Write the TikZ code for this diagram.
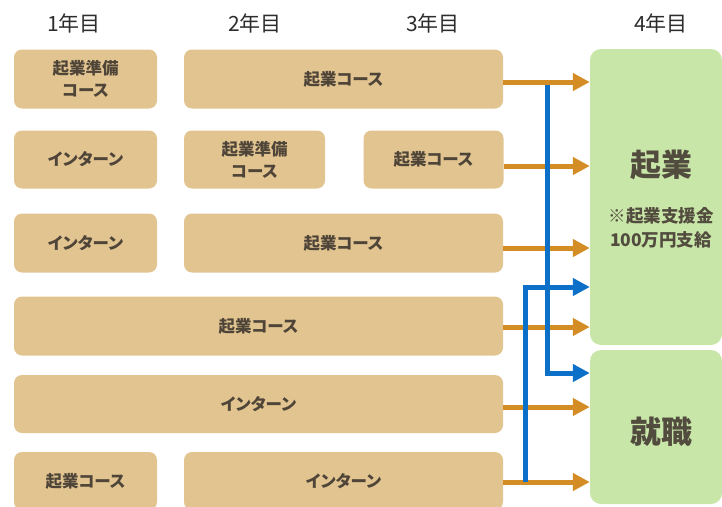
\documentclass[tikz,border=0pt]{standalone}
\usepackage{fontspec}
\usetikzlibrary{arrows.meta}
\newfontfamily\jp{Noto Sans CJK JP}[RawFeature=+palt]
\definecolor{tanc}{RGB}{226,196,144}
\definecolor{greenc}{RGB}{201,230,169}
\definecolor{orangec}{RGB}{211,141,36}
\definecolor{bluec}{RGB}{12,112,200}
\definecolor{boxtxt}{RGB}{78,68,56}
\definecolor{hdrtxt}{RGB}{45,45,45}
\definecolor{gtxt}{RGB}{82,76,62}
\tikzset{
  tbox/.style={fill=tanc, rounded corners=8pt, inner sep=0pt, align=center,
    font=\jp\bfseries\fontsize{16.5}{22}\selectfont, text=boxtxt},
  gbox/.style={fill=greenc, rounded corners=11pt, inner sep=0pt},
  hdr/.style={font=\jp\fontsize{21}{24}\selectfont, text=hdrtxt, inner sep=0pt},
  bigtxt/.style={font=\jp\bfseries\fontsize{31}{36}\selectfont, text=gtxt, inner sep=0pt},
  notetxt/.style={font=\jp\bfseries\fontsize{17.5}{24}\selectfont, text=gtxt, inner sep=0pt, align=center},
  oarr/.style={draw=orangec, line width=5pt, -{Triangle[length=17pt,width=17pt]}},
  barr/.style={draw=bluec, line width=5pt, -{Triangle[length=17pt,width=17pt]}},
}
\begin{document}
\begin{tikzpicture}[x=1pt,y=-1pt]
\useasboundingbox (0,0) rectangle (722,506);
% headers
\node[hdr] (h1) at (74,23) {1年目};
\node[hdr] (h2) at (255,23) {2年目};
\node[hdr] (h3) at (433,23) {3年目};
\node[hdr] (h4) at (661,23) {4年目};
% tan boxes
\node[tbox, minimum width=143pt, minimum height=59pt] (a1) at (85.5,79) {起業準備\\コース};
\node[tbox, minimum width=319pt, minimum height=59pt] (a2) at (343.5,79) {起業コース};
\node[tbox, minimum width=143pt, minimum height=58pt] (b1) at (85.5,159.5) {インターン};
\node[tbox, minimum width=141pt, minimum height=58pt] (b2) at (254.5,159.5) {起業準備\\コース};
\node[tbox, minimum width=140pt, minimum height=58pt] (b3) at (433.5,159.5) {起業コース};
\node[tbox, minimum width=143pt, minimum height=59pt] (c1) at (85.5,243) {インターン};
\node[tbox, minimum width=319pt, minimum height=59pt] (c2) at (343.5,243) {起業コース};
\node[tbox, minimum width=489pt, minimum height=59pt] (d1) at (258.5,326) {起業コース};
\node[tbox, minimum width=489pt, minimum height=58pt] (e1) at (258.5,404) {インターン};
\node[tbox, minimum width=143pt, minimum height=58pt] (f1) at (85.5,481) {起業コース};
\node[tbox, minimum width=319pt, minimum height=58pt] (f2) at (343.5,481) {インターン};
% green boxes
\node[gbox, minimum width=132pt, minimum height=296pt] (kigyo) at (656,197) {};
\node[gbox, minimum width=132pt, minimum height=154pt] (shu) at (656,427) {};
\node[bigtxt] (kt) at (661,165) {起業};
\node[notetxt] (kn) at (661,228) {※起業支援金\\100万円支給};
\node[bigtxt] (st) at (661,432) {就職};
% orange arrows
\draw[oarr] (a2.east |- 0,82) -- (kigyo.west |- 0,82);
\draw[oarr] (b3.east |- 0,166) -- (kigyo.west |- 0,166);
\draw[oarr] (c2.east |- 0,248) -- (kigyo.west |- 0,248);
\draw[oarr] (d1.east |- 0,327) -- (kigyo.west |- 0,327);
\draw[oarr] (e1.east |- 0,407) -- (shu.west |- 0,407);
\draw[oarr] (f2.east |- 0,482) -- (shu.west |- 0,482);
% blue arrows
\coordinate (bs1) at (547,85);
\coordinate (bs2) at (525,482);
\draw[barr] (bs1) |- (shu.west |- 0,373);
\draw[barr] (bs2) |- (kigyo.west |- 0,287);
\end{tikzpicture}
\end{document}
